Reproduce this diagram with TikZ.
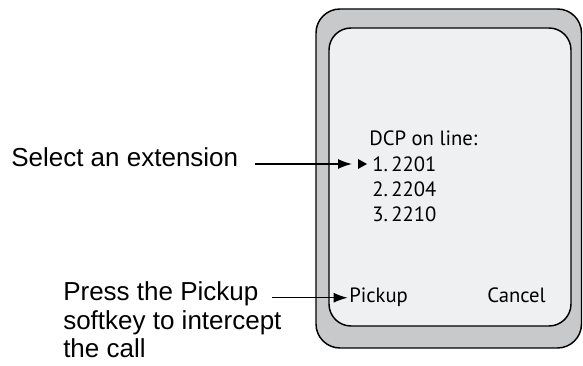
\documentclass[tikz,border=0pt]{standalone}
\usepackage{fontspec}
\setmainfont{Liberation Sans}
\newfontfamily\screenfont{PT Sans}
\usetikzlibrary{positioning,arrows.meta}
\definecolor{bezel}{RGB}{200,201,203}
\definecolor{screen}{RGB}{239,240,242}

\begin{document}
\begin{tikzpicture}[
	x=0.75pt, y=-0.75pt,
	every node/.style={inner sep=0pt},
	callout/.style={font=\fontsize{19.5pt}{21.4pt}\selectfont, align=left, anchor=base west},
	screentext/.style={font=\screenfont\fontsize{15.5pt}{18pt}\selectfont, anchor=base west},
	frame/.style={draw, line width=1.1pt},
	arrow/.style={-{Latex[length=10.5pt,width=7.5pt]}, line width=1.1pt}
	]
	\useasboundingbox (0,0) rectangle (583,366);
	
	% handset
	\draw[frame, rounded corners=18pt, fill=bezel] (316,9) rectangle (581.5,348);
	\draw[frame, rounded corners=16.5pt, fill=screen] (329,28) rectangle (571,326);
	
	\node[screentext] (title) at (369,146) {DCP on line:};
	\node[screentext] (ext1) at (372,171.5) {1.\,2201};
	\node[screentext] (ext2) at (372,197) {2.\,2204};
	\node[screentext] (ext3) at (372,222) {3.\,2210};
	\node[screentext] (pick) at (349,303) {Pickup};
	\node[screentext, anchor=base east] (cancel) at (546,303) {Cancel};
	
	\coordinate (mark) at (358,164);
	\fill (mark) ++(0,-5) -- ++(9,5) -- ++(-9,5) -- cycle;
	
	% callouts (multi-line node sits on its last baseline)
	\node[callout] (sel) at (11,167) {Select an extension};
	\node[callout] (press) at (63,358) {Press the Pickup\\softkey to intercept\\the call};
	
	\coordinate (selTail) at (mark -| 255,0);
	\coordinate (pickTail) at (pick.west -| 272,0);
	\draw[arrow] (selTail) -- ([xshift=-4.5pt]mark);
	\draw[arrow] (pickTail) -- ([xshift=-1pt]pick.west);
	
\end{tikzpicture}
\end{document}
